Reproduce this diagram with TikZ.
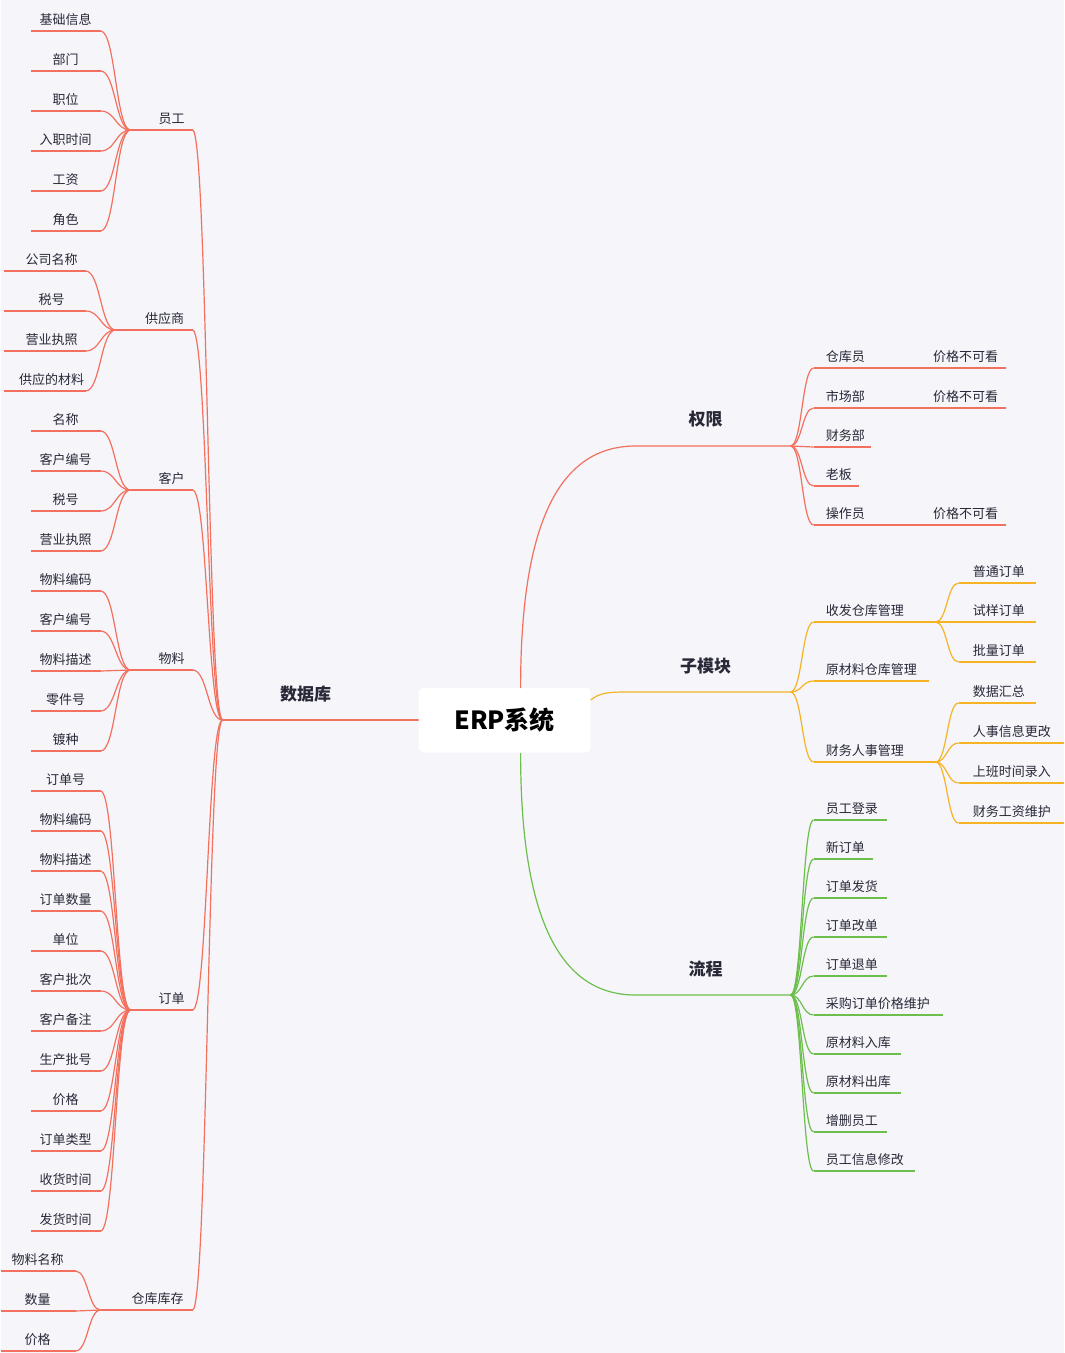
\documentclass[tikz,border=0pt]{standalone}
\usepackage{fontspec}
\setmainfont{Noto Sans CJK SC}
\definecolor{cred}{RGB}{244,112,94}
\definecolor{corg}{RGB}{246,180,37}
\definecolor{cgrn}{RGB}{109,191,75}
\definecolor{ctxt}{RGB}{40,40,55}
\definecolor{cbg}{RGB}{245,245,250}
\begin{document}
\begin{tikzpicture}[x=1pt,y=-1pt,
  red/.style={draw=cred,line width=1.2pt},
  org/.style={draw=corg,line width=1.2pt},
  grn/.style={draw=cgrn,line width=1.2pt},
  lf/.style={font=\fontsize{13}{15}\selectfont,text=ctxt,inner sep=1pt,anchor=south},
  mn/.style={font=\fontsize{17}{20}\selectfont\bfseries,text=ctxt,inner sep=1pt}]
\fill[cbg] (0,0) rectangle (1063,1353);
\newcommand{\cv}[5]{\draw[#1] (#2,#3) .. controls ({(#2+#4)/2},#3) and ({(#2+#4)/2},#5) .. (#4,#5);}
% ---------- left ----------
\draw[red] (418,720) -- (222,720);
\node[mn] (db) at (305,694) {数据库};
\foreach \py/\lab/\lx/\ux/\lfx/\lfa/\lfb/\fy/\list in {
 130/员工/171/130/65/30/100/31/{基础信息,部门,职位,入职时间,工资,角色},
 330/供应商/164/115/51/3/85/271/{公司名称,税号,营业执照,供应的材料},
 490/客户/171/130/65/30/100/431/{名称,客户编号,税号,营业执照},
 670/物料/171/130/65/30/100/591/{物料编码,客户编号,物料描述,零件号,镀种},
 1010/订单/171/130/65/30/100/791/{订单号,物料编码,物料描述,订单数量,单位,客户批次,客户备注,生产批号,价格,订单类型,收货时间,发货时间},
 1310/仓库库存/157/100/37/0/75/1271/{物料名称,数量,价格}}{
  \cv{red}{222}{720}{192}{\py}
  \draw[red] (\ux,\py) -- (192,\py);
  \node[lf] (s\py) at (\lx,{\py-4}) {\lab};
  \foreach \t [count=\i] in \list {
    \pgfmathsetmacro{\yy}{\fy+40*(\i-1)}
    \cv{red}{\ux}{\py}{\lfb}{\yy}
    \draw[red] (\lfa,\yy) -- (\lfb,\yy);
    \node[lf] (l\py-\i) at (\lfx,{\yy-4}) {\t};
  }
}
% ---------- root ----------
\node[fill=white,rounded corners=5pt,minimum width=172pt,minimum height=65pt,font=\fontsize{25}{30}\selectfont\bfseries] (root) at (504,720) {ERP系统};
% ---------- 权限 ----------
\draw[red] (520,688) .. controls (520,520) and (560,446) .. (635,446) -- (790,446);
\node[mn] (qx) at (705,419) {权限};
\foreach \t/\yy/\ue/\g [count=\i] in {仓库员/368/870/1,市场部/408/870/1,财务部/447/870/0,老板/486/858/0,操作员/525/870/1}{
  \cv{red}{790}{446}{813}{\yy}
  \draw[red] (813,\yy) -- (\ue,\yy);
  \node[lf,anchor=south west] (q\i) at (824,{\yy-4}) {\t};
  \ifnum\g=1
    \draw[red] (\ue,\yy) -- (1005,\yy);
    \node[lf] (qg\i) at (965,{\yy-4}) {价格不可看};
  \fi
}
% ---------- 子模块 ----------
\draw[org] (590,700) .. controls (600,692) and (610,692) .. (630,692) -- (790,692);
\node[mn] (zm) at (705,666) {子模块};
\foreach \t/\yy/\ue [count=\i] in {收发仓库管理/622/935,原材料仓库管理/681/928,财务人事管理/762/935}{
  \cv{org}{790}{692}{813}{\yy}
  \draw[org] (813,\yy) -- (\ue,\yy);
  \node[lf,anchor=south west] (z\i) at (824,{\yy-4}) {\t};
}
\foreach \t/\yy/\ue [count=\i] in {普通订单/583/1035,试样订单/622/1035,批量订单/662/1035}{
  \cv{org}{935}{622}{958}{\yy}
  \draw[org] (958,\yy) -- (\ue,\yy);
  \node[lf,anchor=south west] (za\i) at (971,{\yy-4}) {\t};
}
\foreach \t/\yy/\ue [count=\i] in {数据汇总/703/1035,人事信息更改/743/1063,上班时间录入/783/1063,财务工资维护/823/1063}{
  \cv{org}{935}{762}{958}{\yy}
  \draw[org] (958,\yy) -- (\ue,\yy);
  \node[lf,anchor=south west] (zb\i) at (971,{\yy-4}) {\t};
}
% ---------- 流程 ----------
\draw[grn] (520,753) .. controls (520,920) and (560,995) .. (635,995) -- (790,995);
\node[mn] (lc) at (705,969) {流程};
\foreach \t/\ue [count=\i] in {员工登录/886,新订单/872,订单发货/886,订单改单/886,订单退单/886,采购订单价格维护/942,原材料入库/900,原材料出库/900,增删员工/886,员工信息修改/914}{
  \pgfmathsetmacro{\yy}{820+39*(\i-1)}
  \cv{grn}{790}{995}{813}{\yy}
  \draw[grn] (813,\yy) -- (\ue,\yy);
  \node[lf,anchor=south west] (p\i) at (824,{\yy-4}) {\t};
}
\end{tikzpicture}
\end{document}
